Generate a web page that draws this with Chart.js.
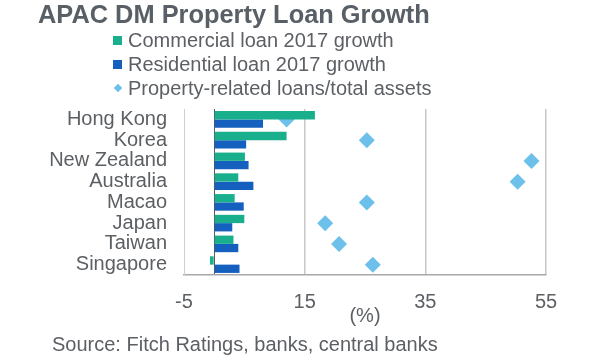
<!DOCTYPE html>
<html>
<head>
<meta charset="utf-8">
<script src="https://cdn.jsdelivr.net/npm/chart.js@4/dist/chart.umd.min.js"></script>
<style>
  body { margin: 0; background: #fff; }
  #wrap { position: relative; width: 600px; height: 360px; font-family: "Liberation Sans", Arial, sans-serif; color: #5c5f63; }
  #chart { position: absolute; left: 0; top: 0; }
  .title { position: absolute; left: 38px; top: -1px; font-size: 25.4px; line-height: 30px; font-weight: bold; color: #595f66; white-space: nowrap; }
  #legend { position: absolute; left: 113px; top: 28px; font-size: 20px; line-height: 24px; }
  .item { display: flex; align-items: center; white-space: nowrap; height: 24px; }
  .swatch { width: 9px; height: 9px; margin-right: 6px; }
  .diamond { width: 6px; height: 6px; margin: 0 7px 0 2px; transform: rotate(45deg); }
  .source { position: absolute; left: 52px; top: 332px; font-size: 20px; line-height: 24px; white-space: nowrap; }
</style>
</head>
<body>
<div id="wrap">
  <canvas id="chart" width="600" height="360"></canvas>
  <div class="title">APAC DM Property Loan Growth</div>
  <div id="legend"></div>
  <div class="source">Source: Fitch Ratings, banks, central banks</div>
</div>
<script>
// data
const countries = ['Hong Kong', 'Korea', 'New Zealand', 'Australia', 'Macao', 'Japan', 'Taiwan', 'Singapore'];
const commercialGrowth = [16.7, 12.0, 5.1, 4.0, 3.4, 5.0, 3.2, -0.7];
const residentialGrowth = [8.1, 5.3, 5.7, 6.5, 4.9, 3.0, 4.0, 4.2];
const propertyShare = [12.0, 25.3, 52.6, 50.3, 25.3, 18.4, 20.7, 26.3];
const xTicks = [-5, 15, 35, 55];

const textColor = '#5c5f63';
const font = { family: '"Liberation Sans", Arial, sans-serif', size: 20 };

const chart = new Chart(document.getElementById('chart'), {
  type: 'bar',
  data: {
    labels: countries,
    datasets: [
      {
        label: 'Commercial loan 2017 growth',
        data: commercialGrowth,
        backgroundColor: '#1aaf8c',
        categoryPercentage: 0.8,
        barPercentage: 1
      },
      {
        label: 'Residential loan 2017 growth',
        data: residentialGrowth,
        backgroundColor: '#1560be',
        categoryPercentage: 0.8,
        barPercentage: 1
      },
      {
        type: 'line',
        label: 'Property-related loans/total assets',
        data: propertyShare,
        indexAxis: 'y',
        showLine: false,
        pointStyle: 'rectRot',
        pointRadius: 8,
        pointBorderWidth: 0,
        backgroundColor: '#6cc0ea',
        borderColor: '#6cc0ea'
      }
    ]
  },
  options: {
    indexAxis: 'y',
    responsive: false,
    animation: false,
    layout: { padding: { left: 0, right: 54, top: 109, bottom: 32 } },
    plugins: {
      legend: { display: false },
      tooltip: { enabled: false }
    },
    scales: {
      x: {
        min: -5,
        max: 55,
        afterBuildTicks: scale => {
          scale.ticks = [-5, 0].concat(xTicks.slice(1)).map(v => ({ value: v }));
        },
        afterFit: scale => { scale.height = 53; },
        ticks: {
          autoSkip: false,
          maxRotation: 0,
          padding: 15,
          color: textColor,
          font: font,
          callback: value => (xTicks.includes(value) ? String(value) : '')
        },
        grid: {
          drawTicks: false,
          color: ctx => (ctx.tick.value === 0 ? '#5a5a5a' : ctx.tick.value === -5 ? 'rgba(0,0,0,0)' : '#c8c8c8'),
          lineWidth: ctx => (ctx.tick.value === 0 ? 1 : 1.5)
        },
        border: { color: '#a8a8a8', width: 1.5 },
        title: {
          display: true,
          text: '(%)',
          color: textColor,
          font: font,
          padding: { top: -10, bottom: 0 }
        }
      },
      y: {
        afterFit: scale => { scale.width = 184; },
        ticks: { autoSkip: false, padding: 17, color: textColor, font: font },
        grid: { drawOnChartArea: false, drawTicks: false },
        border: { color: '#cfcfcf', width: 1 }
      }
    }
  }
});

// legend built from the chart's datasets
const legend = document.getElementById('legend');
chart.data.datasets.forEach(ds => {
  const item = document.createElement('div');
  item.className = 'item';
  const mark = document.createElement('span');
  mark.className = ds.type === 'line' ? 'diamond' : 'swatch';
  mark.style.background = ds.backgroundColor;
  item.appendChild(mark);
  item.appendChild(document.createTextNode(ds.label));
  legend.appendChild(item);
});
</script>
</body>
</html>
